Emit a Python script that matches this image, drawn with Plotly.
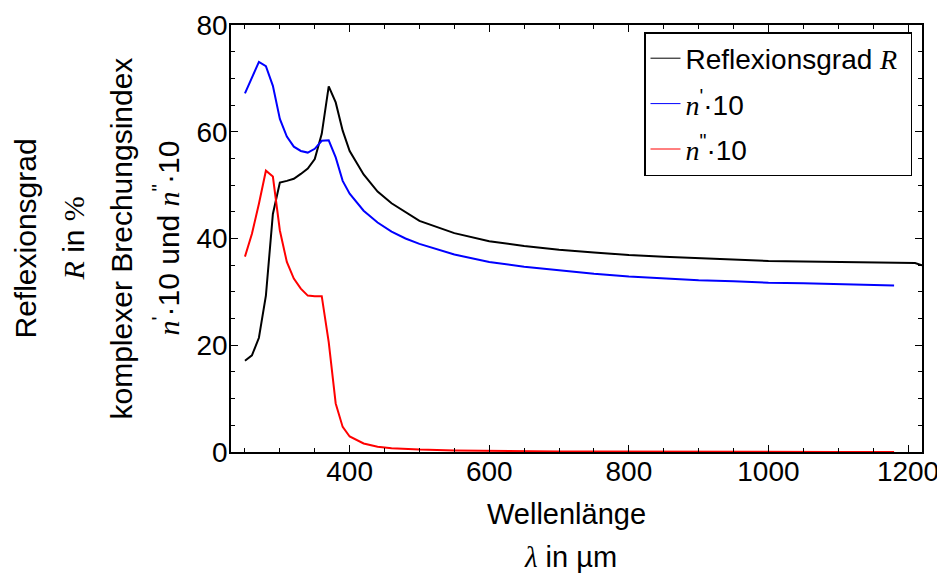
import plotly.graph_objects as go

# Wavelength grid and series
x_R = [250, 260, 270, 280, 290, 300, 310, 320, 330, 340, 350, 360, 370, 380, 390, 400,
       420, 440, 460, 480, 500, 550, 600, 650, 700, 750, 800, 850, 900, 950, 1000,
       1050, 1100, 1150, 1200, 1210, 1220]
R_vals = [17.1, 18.1, 21.4, 29.3, 44.6, 50.5, 50.8, 51.2, 52.1, 53.1, 54.9, 59.6, 68.5, 65.5, 60.2, 56.4,
          52.0, 48.8, 46.6, 44.9, 43.3, 41.0, 39.5, 38.6, 37.9, 37.4, 36.9, 36.6, 36.3, 36.0, 35.8,
          35.7, 35.6, 35.5, 35.4, 35.4, 35.0]

x_n = [250, 260, 270, 280, 290, 300, 310, 320, 330, 340, 350, 360, 370, 380, 390, 400,
       420, 440, 460, 480, 500, 550, 600, 650, 700, 750, 800, 850, 900, 950, 1000,
       1050, 1100, 1150, 1180]
n1_vals = [67.2, 70.2, 73.1, 72.3, 68.6, 62.4, 59.1, 57.2, 56.4, 56.1, 56.8, 58.3, 58.4, 55.2, 50.8, 48.4,
           45.2, 43.0, 41.3, 40.0, 39.0, 37.0, 35.6, 34.7, 34.0, 33.4, 32.9, 32.5, 32.2, 32.0, 31.7,
           31.6, 31.4, 31.3, 31.2]
n2_vals = [36.6, 40.9, 46.5, 52.7, 51.6, 41.5, 35.6, 32.5, 30.6, 29.3, 29.2, 29.2, 20.6, 9.1, 4.7, 2.9,
           1.6, 1.0, 0.7, 0.55, 0.45, 0.3, 0.2, 0.15, 0.1, 0.08, 0.05, 0.04, 0.03, 0.03, 0.02,
           0.02, 0.01, 0.01, 0.01]

x_ticks = [400, 600, 800, 1000, 1200]
y_ticks = [0, 20, 40, 60, 80]

SERIF = "font-family:'Liberation Serif','Times New Roman',serif"
FONT = "Liberation Sans, Arial, sans-serif"

def serif(t):
    return f"<span style=\"{SERIF}\"><i>{t}</i></span>"

name_R = f"Reflexionsgrad {serif('R')}&nbsp;"
name_n1 = f"{serif('n')}<sup>'</sup>·10"
name_n2 = f"{serif('n')}<sup>\"</sup>·10"

colors = ["#000000", "#0000FF", "#FF0000"]
names = [name_R, name_n1, name_n2]
series = [(x_R, R_vals), (x_n, n1_vals), (x_n, n2_vals)]

fig = go.Figure()
for (xs, ys), c in zip(series, colors):
    fig.add_trace(go.Scatter(x=xs, y=ys, mode="lines", showlegend=False,
                             line=dict(color=c, width=2)))
# legend entries (thin sample lines as in the reference)
for i, (nm, c) in enumerate(zip(names, colors)):
    fig.add_trace(go.Scatter(x=[None], y=[None], mode="lines", name=nm,
                             line=dict(color=c, width=1), legendgroup=str(i)))

OFF = 8  # page body margin
W, H = 945 - OFF, 574 - OFF
L, T = 231 - OFF, 25 - OFF
pw, ph = 691, 427
R_ = W - L - pw
B = H - T - ph

def px2x(px):
    return (px - OFF - L) / pw

def py2y(py):
    return (H - B - (py - OFF)) / ph

ytitle_lines = [
    ("Reflexionsgrad", 25),
    (f"{serif('R')} in <span style=\"{SERIF}\">%</span>", 73),
    ("komplexer Brechungsindex", 121),
    (f"{serif('n')}<sup>'</sup>·10 und {serif('n')}<sup>\"</sup>·10", 166),
]
annotations = []
for txt, cx in ytitle_lines:
    annotations.append(dict(text=txt, xref="paper", yref="paper", x=px2x(cx), y=0.5,
                            xanchor="center", yanchor="middle", textangle=-90,
                            showarrow=False, font=dict(size=30, family=FONT, color="black")))
xtitle_lines = [("Wellenlänge", 566, 514), (f"{serif('λ')} in µm", 570, 557)]
for txt, cx, cy in xtitle_lines:
    annotations.append(dict(text=txt, xref="paper", yref="paper", x=px2x(cx), y=py2y(cy),
                            xanchor="center", yanchor="middle",
                            showarrow=False, font=dict(size=29, family=FONT, color="black")))

fig.update_layout(
    width=W, height=H,
    margin=dict(l=L, r=R_, t=T, b=B, autoexpand=False),
    paper_bgcolor="white", plot_bgcolor="white",
    font=dict(family=FONT, size=28, color="black"),
    showlegend=True,
    annotations=annotations,
    legend=dict(x=px2x(912), y=py2y(32), xanchor="right", yanchor="top",
                bgcolor="white", bordercolor="black", borderwidth=1.5,
                font=dict(size=28), tracegroupgap=6, itemwidth=30),
    xaxis=dict(range=[230, 1220], tickvals=x_ticks, ticks="inside", ticklen=7,
               tickwidth=1, tickcolor="black", showline=True, linecolor="black",
               linewidth=1.5, mirror="ticks", showgrid=False, zeroline=False,
               automargin=False, ticklabelstandoff=-6,
               minor=dict(dtick=50, tick0=0, ticks="inside", ticklen=4, tickcolor="black", showgrid=False),
               tickfont=dict(size=28)),
    yaxis=dict(range=[0, 80], tickvals=y_ticks, ticks="inside", ticklen=7,
               tickwidth=1, tickcolor="black", showline=True, linecolor="black",
               linewidth=1.5, mirror="ticks", showgrid=False, zeroline=False,
               automargin=False, ticklabelstandoff=-4,
               minor=dict(dtick=5, tick0=0, ticks="inside", ticklen=4, tickcolor="black", showgrid=False),
               tickfont=dict(size=28)),
)

fig.write_html("out.html")
